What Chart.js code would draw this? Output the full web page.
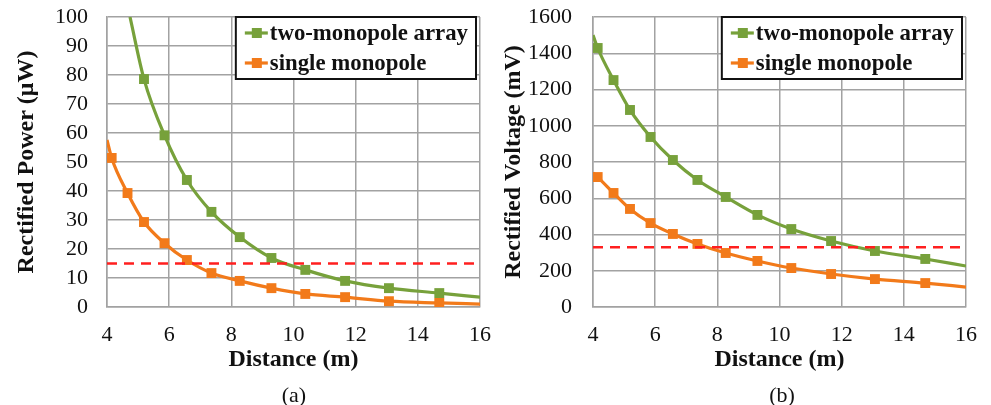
<!DOCTYPE html>
<html>
<head>
<meta charset="utf-8">
<script src="https://cdn.jsdelivr.net/npm/chart.js@4.4.1/dist/chart.umd.min.js"></script>
<style>
body { margin: 0; background: #fff; width: 991px; height: 405px; position: relative; overflow: hidden;
       font-family: "Liberation Serif", "Times New Roman", serif; }
canvas { position: absolute; top: 0; }
.cap { position: absolute; top: 384px; width: 120px; font-size: 22px; line-height: 22px; color: #111; text-align: center; }
</style>
</head>
<body>
<canvas id="chartA" width="495" height="405" style="left:0"></canvas>
<canvas id="chartB" width="496" height="405" style="left:495px"></canvas>
<div class="cap" style="left:234px">(a)</div>
<div class="cap" style="left:722px">(b)</div>
<script>
var distance = [4.15, 4.66, 5.19, 5.85, 6.57, 7.36, 8.27, 9.29, 10.38, 11.66, 13.07, 14.69];

var powerArray = [null, null, 78.6, 59.2, 43.8, 32.8, 24.1, 16.9, 12.8, 9.0, 6.5, 4.8];
var powerSingle = [51.4, 39.3, 29.3, 22.0, 16.2, 11.7, 9.0, 6.5, 4.5, 3.4, 2.0, 1.4];
var voltageArray = [1429, 1252, 1087, 938, 811, 701, 607, 508, 430, 364, 309, 265];
var voltageSingle = [717, 629, 541, 463, 403, 348, 298, 254, 215, 182, 154, 132];

// where the fitted curves leave the plot (first / last point, no marker)
var powerArrayEnds = [[4.74, 100], [16, 3.4]];
var powerSingleEnds = [[4, 57.6], [16, 1.0]];
var voltageArrayEnds = [[4, 1500], [16, 226]];
var voltageSingleEnds = [[4, 740], [16, 110]];

var powerLimit = 15;
var voltageLimit = 330;

var distanceTicks = [4, 6, 8, 10, 12, 14, 16];
var powerTicks = [0, 10, 20, 30, 40, 50, 60, 70, 80, 90, 100];
var voltageTicks = [0, 200, 400, 600, 800, 1000, 1200, 1400, 1600];

var GREEN = '#77a13b';
var ORANGE = '#f27a1a';
var GRID = '#a2a2a2';
var SERIF = '"Liberation Serif", "Times New Roman", serif';

Chart.defaults.font.family = SERIF;
Chart.defaults.color = '#111';

function curve(ends, ys) {
    var pts = [{x: ends[0][0], y: ends[0][1], mark: false}];
    distance.forEach(function (d, i) {
        if (ys[i] !== null) pts.push({x: d, y: ys[i], mark: true});
    });
    pts.push({x: ends[1][0], y: ends[1][1], mark: false});
    return pts;
}

function series(label, color, pts) {
    return {
        label: label,
        data: pts,
        borderColor: color,
        backgroundColor: color,
        borderWidth: 3.2,
        pointStyle: 'rect',
        pointRadius: pts.map(function (p) { return p.mark ? 7 : 0; }),
        pointBorderWidth: 0,
        cubicInterpolationMode: 'monotone'
    };
}

function limitLine(value) {
    return {
        data: [{x: 4, y: value}, {x: 16, y: value}],
        borderColor: '#ff1f1f',
        borderWidth: 2.5,
        borderDash: [10, 7],
        pointRadius: 0
    };
}

// boxed legend in the top right corner of the plot
var boxLegend = {
    id: 'boxLegend',
    afterDatasetsDraw: function (chart) {
        var ctx = chart.ctx, area = chart.chartArea;
        var items = chart.data.datasets.filter(function (d) { return d.label; });
        ctx.save();
        ctx.font = 'bold 22.8px ' + SERIF;
        var textW = 0;
        items.forEach(function (d) { textW = Math.max(textW, ctx.measureText(d.label).width); });
        var w = 34 + textW + 8, h = 62;
        var left = area.right - 4 - w, top = area.top;
        ctx.fillStyle = '#fff';
        ctx.fillRect(left, top, w, h);
        ctx.lineWidth = 2;
        ctx.strokeStyle = '#111';
        ctx.strokeRect(left, top, w, h);
        items.forEach(function (d, i) {
            var y = top + 16 + i * 30;
            ctx.strokeStyle = d.borderColor;
            ctx.lineWidth = 3.2;
            ctx.beginPath();
            ctx.moveTo(left + 9, y);
            ctx.lineTo(left + 32, y);
            ctx.stroke();
            ctx.fillStyle = d.borderColor;
            ctx.fillRect(left + 16, y - 5, 10, 10);
            ctx.fillStyle = '#111';
            ctx.textBaseline = 'middle';
            ctx.fillText(d.label, left + 34, y + 1);
        });
        ctx.restore();
    }
};

function plain(v) { return String(v); }

function makeChart(id, yTitle, yTicks, yWidth, yTitlePad, yTickPad, rightPad, arr, single, limit) {
    var ctx = document.getElementById(id).getContext('2d');
    return new Chart(ctx, {
        type: 'line',
        data: {
            datasets: [limitLine(limit),
                series('two-monopole array', GREEN, arr),
                series('single monopole', ORANGE, single)]
        },
        options: {
            responsive: false,
            animation: false,
            events: [],
            layout: {padding: {left: 0, top: 17, right: rightPad, bottom: 0}},
            plugins: {legend: {display: false}, tooltip: {enabled: false}},
            scales: {
                x: {
                    type: 'linear',
                    min: 4,
                    max: 16,
                    afterBuildTicks: function (s) { s.ticks = distanceTicks.map(function (v) { return {value: v}; }); },
                    afterFit: function (s) { s.height = 98; s.paddingLeft = 0; s.paddingRight = 0; },
                    grid: {color: GRID, lineWidth: 1.5, drawTicks: false},
                    border: {color: GRID, width: 1.5},
                    ticks: {padding: 15, font: {size: 22}, color: '#111', autoSkip: false, maxRotation: 0, callback: plain},
                    title: {display: true, text: 'Distance (m)', font: {size: 24, weight: 'bold'},
                        color: '#111', padding: {top: 0, bottom: 31}}
                },
                y: {
                    min: yTicks[0],
                    max: yTicks[yTicks.length - 1],
                    afterBuildTicks: function (s) { s.ticks = yTicks.map(function (v) { return {value: v}; }); },
                    afterFit: function (s) { s.width = yWidth; s.paddingTop = 0; s.paddingBottom = 0; },
                    grid: {color: GRID, lineWidth: 1.5, drawTicks: false},
                    border: {color: GRID, width: 1.5},
                    ticks: {padding: yTickPad, font: {size: 22}, color: '#111', autoSkip: false, callback: plain},
                    title: {display: true, text: yTitle, font: {size: 24, weight: 'bold'},
                        color: '#111', padding: {top: yTitlePad, bottom: 0}}
                }
            }
        },
        plugins: [boxLegend]
    });
}

window.onload = function () {
    makeChart('chartA', 'Rectified Power (\u03bcW)', powerTicks, 107, 12, 19, 15,
        curve(powerArrayEnds, powerArray), curve(powerSingleEnds, powerSingle), powerLimit);
    makeChart('chartB', 'Rectified Voltage (mV)', voltageTicks, 98, 4, 21, 25,
        curve(voltageArrayEnds, voltageArray), curve(voltageSingleEnds, voltageSingle), voltageLimit);
};
</script>
</body>
</html>
